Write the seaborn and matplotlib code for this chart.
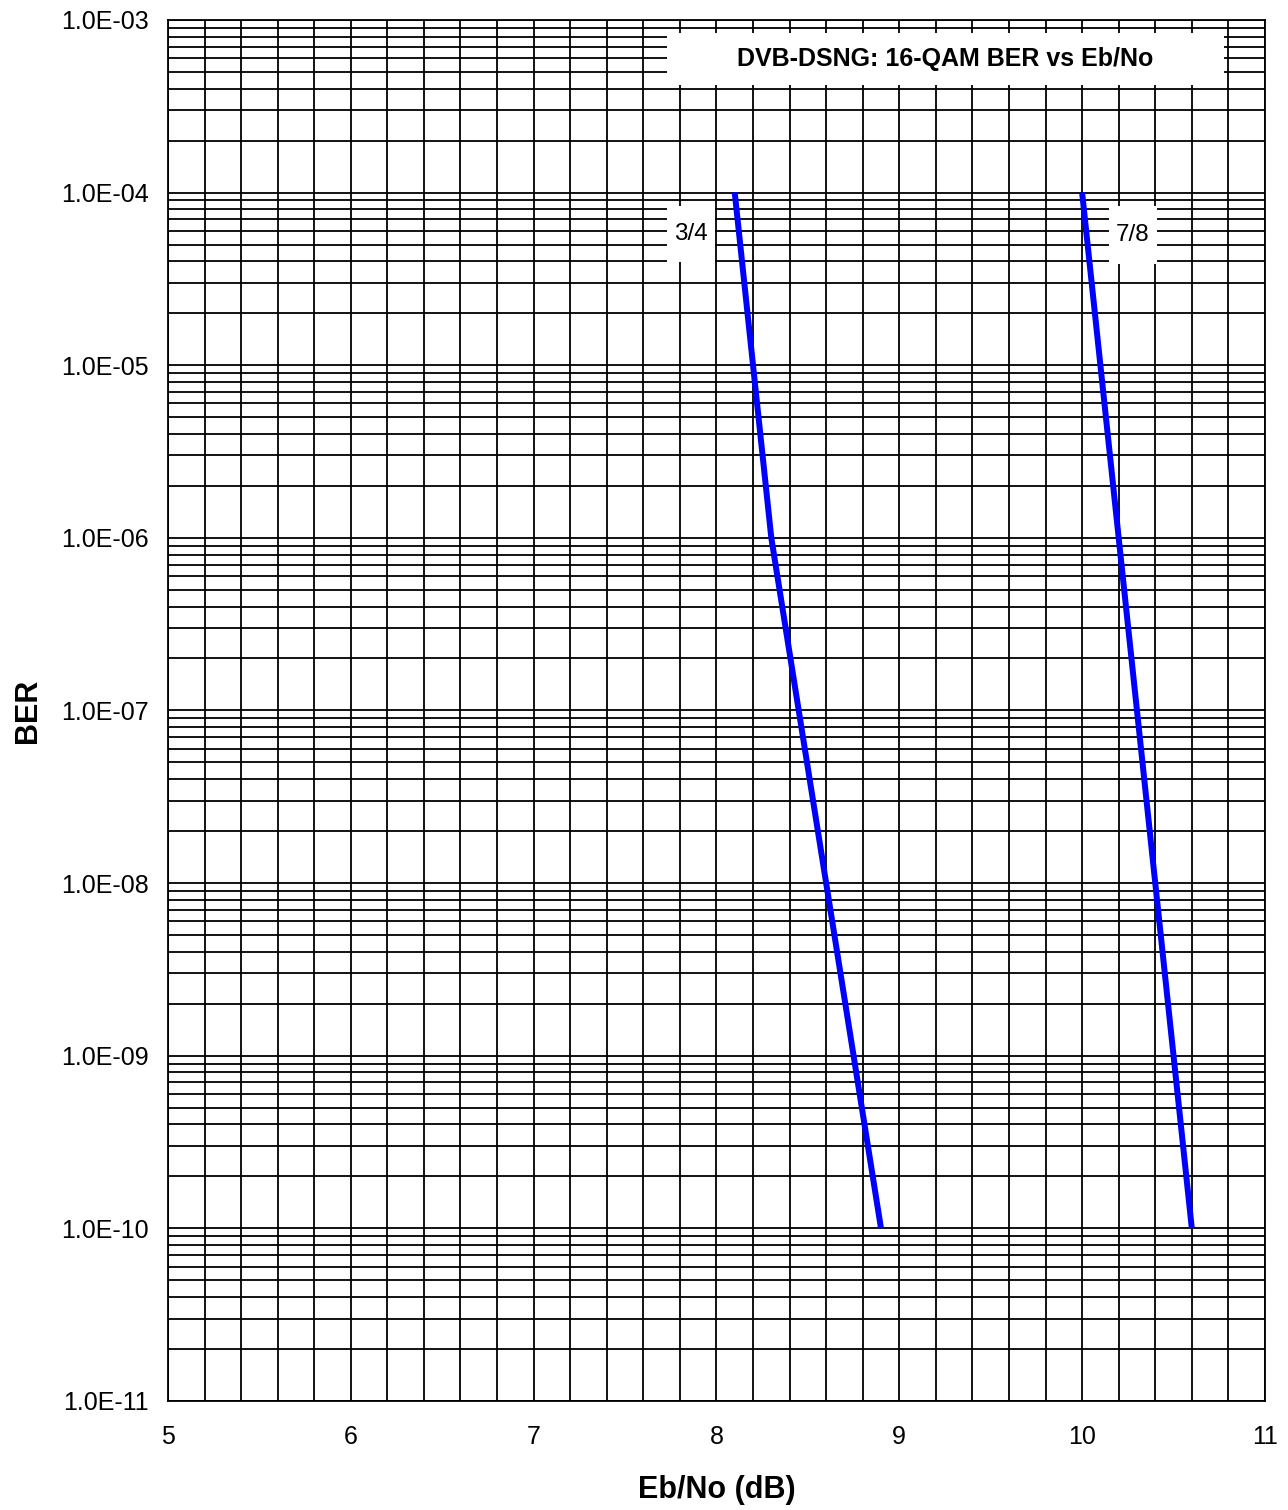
"""
DVB-DSNG: 16-QAM BER vs Eb/No
"""

import numpy as np
import pandas as pd
import matplotlib
matplotlib.use('Agg')
import matplotlib.pyplot as plt
import matplotlib.ticker as mticker
from matplotlib.patches import Rectangle
import seaborn as sns

# Данные
ber_values = [1e-4, 1e-5, 1e-6, 1e-7, 1e-8, 1e-9, 1e-10]
ebno_34 = [8.1, 8.2, 8.3, 8.45, 8.6, 8.75, 8.9]
ebno_78 = [10.0, 10.1, 10.2, 10.3, 10.4, 10.5, 10.6]
rate_labels = ['3/4', '7/8']

x_ticks = [5, 6, 7, 8, 9, 10, 11]
y_ticks = [1e-3, 1e-4, 1e-5, 1e-6, 1e-7, 1e-8, 1e-9, 1e-10, 1e-11]

df = pd.DataFrame({
    'ebno': ebno_34 + ebno_78,
    'ber': ber_values + ber_values,
    'rate': [rate_labels[0]] * len(ebno_34) + [rate_labels[1]] * len(ebno_78),
})

sns.set_style('white')
plt.rcParams['font.family'] = ['Liberation Sans', 'DejaVu Sans']
plt.rcParams['text.color'] = 'black'
plt.rcParams['axes.labelcolor'] = 'black'
plt.rcParams['xtick.color'] = 'black'
plt.rcParams['ytick.color'] = 'black'

fig = plt.figure(figsize=(12.88, 15.10), dpi=100)
ax = fig.add_axes([0.1304, 0.0722, 0.8517, 0.9146])

sns.lineplot(data=df, x='ebno', y='ber', hue='rate', palette=['#0000ff', '#0000ff'],
             linewidth=4.3, legend=False, ax=ax, zorder=5)
for line in ax.lines:
    line.set_solid_capstyle('butt')

ax.set_yscale('log')
ax.set_xlim(5, 11)
ax.set_ylim(1e-11, 1e-3)

# Сетка
ax.set_xticks(x_ticks)
ax.set_xticks(np.arange(5, 11.01, 0.2), minor=True)
ax.set_yticks(y_ticks)
ax.yaxis.set_minor_locator(mticker.LogLocator(base=10, subs=np.arange(2, 10), numticks=100))
ax.yaxis.set_major_formatter(mticker.FuncFormatter(lambda v, p: f"{v:.1E}"))
ax.yaxis.set_minor_formatter(mticker.NullFormatter())
ax.grid(which='both', color='black', linewidth=1.3)
ax.set_axisbelow(True)

ax.tick_params(which='major', direction='out', length=6, width=1.3, color='black',
               labelcolor='black', labelsize=18)
ax.tick_params(axis='y', which='major', pad=8)
ax.tick_params(axis='x', which='major', pad=11)
ax.tick_params(which='minor', length=0)
for s in ax.spines.values():
    s.set_color('black')
    s.set_linewidth(1.3)

ax.set_xlabel('Eb/No (dB)', fontsize=22, fontweight='bold')
ax.set_ylabel('BER', fontsize=22, fontweight='bold')
ax.xaxis.set_label_coords(0.5, -0.0644)
ax.xaxis.label.set_va('center')
ax.yaxis.set_label_coords(-0.1276, 0.5)
ax.yaxis.label.set_va('center')

# Подписи в белых рамках
boxes = [
    (0.4549, 0.9529, 0.5077, 0.0377, 'DVB-DSNG: 16-QAM BER vs Eb/No', 'bold', 18),
    (0.4549, 0.8248, 0.0437, 0.0405, rate_labels[0], 'normal', 17.5),
    (0.8578, 0.8233, 0.0437, 0.0420, rate_labels[1], 'normal', 17.5),
]
for x0, y0, w, h, txt, weight, fs in boxes:
    ax.add_patch(Rectangle((x0, y0), w, h, transform=ax.transAxes,
                           facecolor='white', edgecolor='none', zorder=3))
    ax.text(x0 + w / 2, y0 + h / 2, txt, transform=ax.transAxes, ha='center', va='center',
            fontsize=fs, fontweight=weight, zorder=4)

plt.savefig('out.png', dpi=100)
